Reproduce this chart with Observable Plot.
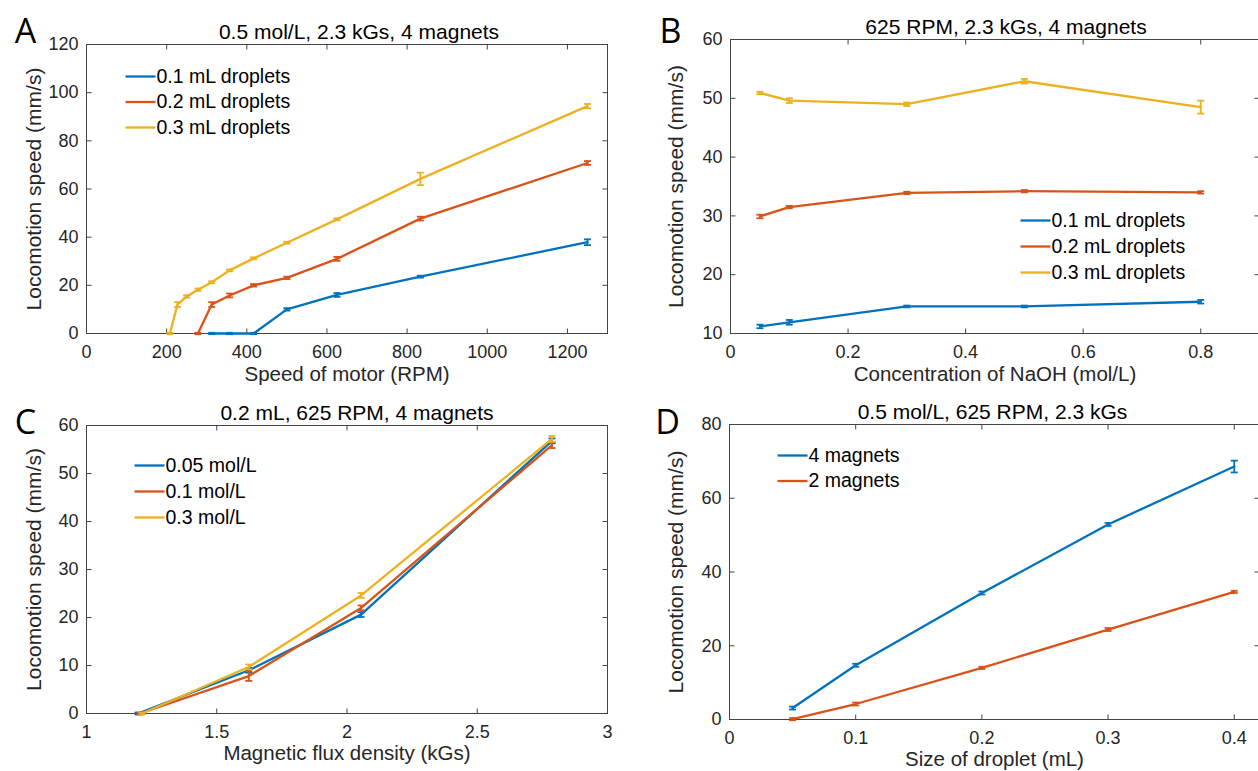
<!DOCTYPE html>
<html>
<head>
<meta charset="utf-8">
<script src="https://cdn.jsdelivr.net/npm/d3@7"></script>
<script src="https://cdn.jsdelivr.net/npm/@observablehq/plot@0.6"></script>
<style>
  html, body { margin: 0; padding: 0; background: #fff; overflow: hidden; }
  #fig { position: relative; width: 1258px; height: 771px; overflow: hidden; background: #fff; }
  .cell { position: absolute; }
</style>
</head>
<body>
<div id="fig"></div>
<script>
// ---------- colours ----------
const blue = "#0072BD", orange = "#D95319", yellow = "#EDB120";

// ---------- Panel A: speed of motor ----------
const rpmA01 = [312.5, 357, 417, 500, 625, 833, 1250];
const speedA01 = [0, 0, 0, 10, 16, 23.6, 37.9];
const errA01 = [0.3, 0.3, 0.3, 0.5, 0.8, 0.4, 1.2];
const rpmA02 = [278, 312.5, 357, 417, 500, 625, 833, 1250];
const speedA02 = [0, 12, 15.8, 20, 23.1, 31, 47.7, 70.8];
const errA02 = [0.3, 1.0, 0.8, 0.5, 0.5, 0.8, 0.8, 0.8];
const rpmA03 = [208, 227, 250, 278, 312.5, 357, 417, 500, 625, 833, 1250];
const speedA03 = [0, 12, 15.4, 18.2, 21.3, 26.2, 31.2, 37.7, 47.4, 64.2, 94.4];
const errA03 = [0.3, 1.0, 0.5, 0.5, 0.4, 0.4, 0.4, 0.4, 0.4, 2.6, 0.9];
const xTicksA = [0, 200, 400, 600, 800, 1000, 1200];
const yTicksA = [0, 20, 40, 60, 80, 100, 120];

// ---------- Panel B: NaOH concentration ----------
const naoh = [0.05, 0.1, 0.3, 0.5, 0.8];
const speedB01 = [11.2, 11.9, 14.6, 14.6, 15.4];
const errB01 = [0.3, 0.4, 0.15, 0.15, 0.3];
const speedB02 = [29.9, 31.5, 33.9, 34.2, 34.0];
const errB02 = [0.3, 0.2, 0.2, 0.2, 0.2];
const speedB03 = [50.9, 49.6, 49.0, 52.9, 48.5];
const errB03 = [0.2, 0.4, 0.3, 0.4, 1.1];
const xTicksB = [0, 0.2, 0.4, 0.6, 0.8];
const yTicksB = [10, 20, 30, 40, 50, 60];

// ---------- Panel C: magnetic flux density ----------
const fluxC005 = [1.198, 1.623, 2.054, 2.787];
const speedC005 = [0, 9.0, 20.6, 56.8];
const errC005 = [0.2, 0.5, 0.5, 0.5];
const fluxC01 = [1.205, 1.623, 2.054, 2.787];
const speedC01 = [0, 7.8, 22.0, 55.9];
const errC01 = [0.2, 1.0, 0.5, 0.6];
const fluxC03 = [1.213, 1.623, 2.054, 2.787];
const speedC03 = [0, 9.7, 24.6, 57.2];
const errC03 = [0.2, 0.5, 0.5, 0.6];
const xTicksC = [1, 1.5, 2, 2.5, 3];
const yTicksC = [0, 10, 20, 30, 40, 50, 60];

// ---------- Panel D: droplet size ----------
const sizeD = [0.05, 0.1, 0.2, 0.3, 0.4];
const speedD4 = [3.1, 14.7, 34.3, 52.9, 68.6];
const errD4 = [0.4, 0.4, 0.4, 0.4, 1.6];
const speedD2 = [0.1, 4.2, 14.0, 24.4, 34.6];
const errD2 = [0.3, 0.4, 0.3, 0.4, 0.3];
const xTicksD = [0, 0.1, 0.2, 0.3, 0.4];
const yTicksD = [0, 20, 40, 60, 80];

// ---------- custom line symbols ----------
const len = (size) => Math.sqrt(size / Math.PI);
const hline = { draw(c, s) { const l = len(s); c.moveTo(-l, 0); c.lineTo(l, 0); } };
const hseg  = { draw(c, s) { const l = len(s); c.moveTo(0, 0); c.lineTo(l, 0); } };
const tickUp    = { draw(c, s) { const l = len(s); c.moveTo(0, 0); c.lineTo(0, -l); } };
const tickDown  = { draw(c, s) { const l = len(s); c.moveTo(0, 0); c.lineTo(0, l); } };
const tickRight = { draw(c, s) { const l = len(s); c.moveTo(0, 0); c.lineTo(l, 0); } };
const tickLeft  = { draw(c, s) { const l = len(s); c.moveTo(0, 0); c.lineTo(-l, 0); } };

const frameColor = "#444";
const font = "'Liberation Sans', Arial, Helvetica, sans-serif";

function panel(cfg) {
  const marks = [];
  marks.push(Plot.frame({stroke: frameColor, strokeWidth: 1}));
  const tk = {r: 5, fill: "none", stroke: frameColor, strokeWidth: 1};
  marks.push(Plot.dot(cfg.xTicks, {x: d => d, frameAnchor: "bottom", symbol: tickUp, ...tk}));
  marks.push(Plot.dot(cfg.xTicks, {x: d => d, frameAnchor: "top", symbol: tickDown, ...tk}));
  marks.push(Plot.dot(cfg.yTicks, {y: d => d, frameAnchor: "left", symbol: tickRight, ...tk}));
  marks.push(Plot.dot(cfg.yTicks, {y: d => d, frameAnchor: "right", symbol: tickLeft, ...tk}));

  for (const s of cfg.series) {
    const rows = s.x.map((x, i) => ({x, y: s.y[i], e: s.e[i]}));
    marks.push(Plot.line(rows, {x: "x", y: "y", stroke: s.color, strokeWidth: 2.3}));
    marks.push(Plot.ruleX(rows, {x: "x", y1: d => d.y - d.e, y2: d => d.y + d.e, stroke: s.color, strokeWidth: 1.8}));
    marks.push(Plot.dot(rows, {x: "x", y: d => d.y + d.e, symbol: hline, r: 3.5, fill: "none", stroke: s.color, strokeWidth: 1.8}));
    marks.push(Plot.dot(rows, {x: "x", y: d => d.y - d.e, symbol: hline, r: 3.5, fill: "none", stroke: s.color, strokeWidth: 1.8}));
  }

  // legend
  cfg.series.forEach((s, i) => {
    const dy = cfg.legend.dy + i * cfg.legend.step;
    marks.push(Plot.dot([s.name], {frameAnchor: "top-left", dx: cfg.legend.dx, dy, symbol: hseg, r: 30, fill: "none", stroke: s.color, strokeWidth: 2.3}));
    marks.push(Plot.text([s.name], {frameAnchor: "top-left", dx: cfg.legend.dx + 31, dy, text: d => d, textAnchor: "start", lineAnchor: "middle", fontSize: 19.5, fill: "#000"}));
  });

  // title, letter, axis labels
  marks.push(Plot.text([cfg.title], {frameAnchor: "top", dx: cfg.titleDx, dy: -12, text: d => d, textAnchor: "middle", lineAnchor: "middle", fontSize: 21, fill: "#000"}));
  marks.push(Plot.text([cfg.letter], {frameAnchor: "top-left", dx: cfg.letterDx, dy: cfg.letterDy, text: d => d, textAnchor: "middle", lineAnchor: "bottom", fontSize: 34, fontFamily: "'Open Sans', 'Noto Sans', sans-serif", fill: "#000"}));
  marks.push(Plot.text([cfg.xLabel], {frameAnchor: "bottom", dy: cfg.xLabelDy, text: d => d, textAnchor: "middle", lineAnchor: "middle", fontSize: 20.5, fill: "#262626"}));
  marks.push(Plot.text([cfg.yLabel], {frameAnchor: "left", dx: cfg.yLabelDx, text: d => d, rotate: -90, textAnchor: "middle", lineAnchor: "middle", fontSize: 21, fill: "#262626"}));

  const chart = Plot.plot({
    width: cfg.width, height: cfg.height,
    marginLeft: cfg.m[0], marginTop: cfg.m[1], marginRight: cfg.m[2], marginBottom: cfg.m[3],
    x: {domain: cfg.xDomain, ticks: cfg.xTicks, tickSize: 0, tickPadding: 12, tickFormat: d => `${d}`, label: null},
    y: {domain: cfg.yDomain, ticks: cfg.yTicks, tickSize: 0, tickPadding: 8, tickFormat: d => `${d}`, label: null},
    style: {fontFamily: font, fontSize: "18px", color: "#262626", background: "transparent", maxWidth: "none", overflow: "visible"},
    marks
  });
  const div = document.createElement("div");
  div.className = "cell";
  div.style.left = cfg.left + "px";
  div.style.top = cfg.top + "px";
  div.style.width = cfg.width + "px";
  div.style.height = cfg.height + "px";
  div.appendChild(chart);
  document.getElementById("fig").appendChild(div);
}

panel({
  left: 0, top: 0, width: 629, height: 392, m: [86, 44, 22, 59],
  xDomain: [0, 1300], yDomain: [0, 120], xTicks: xTicksA, yTicks: yTicksA,
  series: [
    {name: "0.1 mL droplets", color: blue, x: rpmA01, y: speedA01, e: errA01},
    {name: "0.2 mL droplets", color: orange, x: rpmA02, y: speedA02, e: errA02},
    {name: "0.3 mL droplets", color: yellow, x: rpmA03, y: speedA03, e: errA03}
  ],
  legend: {dx: 39, dy: 32, step: 25.5},
  title: "0.5 mol/L, 2.3 kGs, 4 magnets", titleDx: 12,
  letter: "A", letterDx: -61, letterDy: -2,
  xLabel: "Speed of motor (RPM)", xLabelDy: 41,
  yLabel: "Locomotion speed (mm/s)", yLabelDx: -52
});

panel({
  left: 630, top: 0, width: 640, height: 392, m: [100, 39, 11, 59],
  xDomain: [0, 0.9], yDomain: [10, 60], xTicks: xTicksB, yTicks: yTicksB,
  series: [
    {name: "0.1 mL droplets", color: blue, x: naoh, y: speedB01, e: errB01},
    {name: "0.2 mL droplets", color: orange, x: naoh, y: speedB02, e: errB02},
    {name: "0.3 mL droplets", color: yellow, x: naoh, y: speedB03, e: errB03}
  ],
  legend: {dx: 290, dy: 181, step: 26},
  title: "625 RPM, 2.3 kGs, 4 magnets", titleDx: 11,
  letter: "B", letterDx: -60, letterDy: 3,
  xLabel: "Concentration of NaOH (mol/L)", xLabelDy: 41,
  yLabel: "Locomotion speed (mm/s)", yLabelDx: -54
});

panel({
  left: 0, top: 392, width: 629, height: 379, m: [86, 33, 22, 58],
  xDomain: [1, 3], yDomain: [0, 60], xTicks: xTicksC, yTicks: yTicksC,
  series: [
    {name: "0.05 mol/L", color: blue, x: fluxC005, y: speedC005, e: errC005},
    {name: "0.1 mol/L", color: orange, x: fluxC01, y: speedC01, e: errC01},
    {name: "0.3 mol/L", color: yellow, x: fluxC03, y: speedC03, e: errC03}
  ],
  legend: {dx: 48, dy: 40, step: 26},
  title: "0.2 mL, 625 RPM, 4 magnets", titleDx: 10,
  letter: "C", letterDx: -61, letterDy: 8,
  xLabel: "Magnetic flux density (kGs)", xLabelDy: 40,
  yLabel: "Locomotion speed (mm/s)", yLabelDx: -52
});

panel({
  left: 630, top: 392, width: 640, height: 379, m: [99, 32, 11, 52],
  xDomain: [0, 0.42], yDomain: [0, 80], xTicks: xTicksD, yTicks: yTicksD,
  series: [
    {name: "4 magnets", color: blue, x: sizeD, y: speedD4, e: errD4},
    {name: "2 magnets", color: orange, x: sizeD, y: speedD2, e: errD2}
  ],
  legend: {dx: 48, dy: 31, step: 25.5},
  title: "0.5 mol/L, 625 RPM, 2.3 kGs", titleDx: -2,
  letter: "D", letterDx: -62, letterDy: 9,
  xLabel: "Size of droplet (mL)", xLabelDy: 40,
  yLabel: "Locomotion speed (mm/s)", yLabelDx: -53
});
</script>
</body>
</html>
